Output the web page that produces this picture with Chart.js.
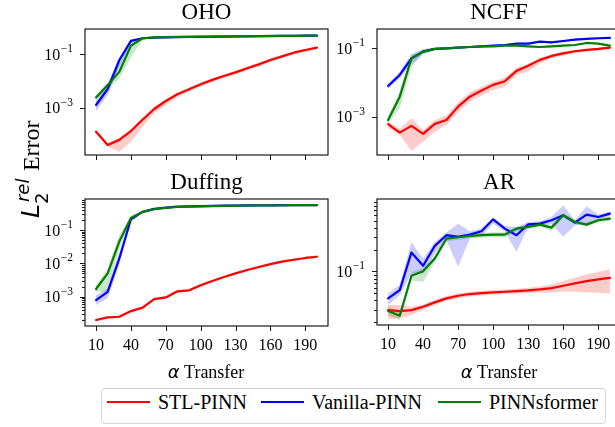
<!DOCTYPE html>
<html>
<head>
<meta charset="utf-8">
<script src="https://cdn.jsdelivr.net/npm/chart.js@4.4.0/dist/chart.umd.min.js"></script>
<style>
  html, body { margin: 0; padding: 0; width: 615px; height: 427px; overflow: hidden; background: #fff; }
  canvas { position: absolute; }
  .lbl { position: absolute; font-family: "Liberation Serif", serif; white-space: nowrap; color: #000; }
  .mi { font-family: "DejaVu Sans", sans-serif; font-style: italic; }
  .ss { display: inline-block; position: relative; width: 27px; height: 1px; }
  .ss .sp { position: absolute; left: 2px; bottom: 7px; font-size: 18px; line-height: 18px; }
  .ss .sb { position: absolute; left: 0px; top: -5px; font-size: 18px; line-height: 18px; font-style: normal; }
  .legline { position: absolute; width: 43px; height: 2px; }
</style>
</head>
<body>
<canvas id="c_oho"></canvas>
<canvas id="c_ncff"></canvas>
<canvas id="c_duff"></canvas>
<canvas id="c_ar"></canvas>

<div class="lbl" id="ylab" style="font-size:24px;line-height:24px;left:0;top:0;transform-origin:0 0;transform:translate(19px,218px) rotate(-90deg);">
  <span class="mi" style="font-size:25px">L</span><span class="ss"><span class="sp mi">rel</span><span class="sb mi">2</span></span> Error
</div>

<div class="lbl" style="font-size:18px;line-height:18px;left:206px;top:363px;transform:translateX(-50%);"><span class="mi">α</span> Transfer</div>
<div class="lbl" style="font-size:18px;line-height:18px;left:499px;top:363px;transform:translateX(-50%);"><span class="mi">α</span> Transfer</div>

<div style="position:absolute;left:101px;top:388px;width:503px;height:34px;border:1px solid #d4d4d4;border-radius:4px;background:#fff;"></div>
<div class="legline" style="left:107px;top:401px;background:#ff0000;"></div>
<div class="lbl" style="left:158px;top:391.5px;font-size:20px;line-height:20px;">STL-PINN</div>
<div class="legline" style="left:261px;top:401px;background:#0000ff;"></div>
<div class="lbl" style="left:312px;top:391.5px;font-size:20px;line-height:20px;">Vanilla-PINN</div>
<div class="legline" style="left:438px;top:401px;background:#008000;"></div>
<div class="lbl" style="left:489px;top:391.5px;font-size:20px;line-height:20px;">PINNsformer</div>

<script>
// ----------------------------------------------------
// data
// ----------------------------------------------------
const xVals = [10, 20, 30, 40, 50, 60, 70, 80, 90, 100, 110, 120, 130, 140, 150, 160, 170, 180, 190, 200];
const xTicks = [10, 40, 70, 100, 130, 160, 190];

// OHO
const ohoStl   = [1.26e-4, 4.0e-5, 6.2e-5, 1.33e-4, 3.5e-4, 8.9e-4, 1.78e-3, 3.2e-3, 4.9e-3, 7.5e-3, 1.1e-2, 1.54e-2, 2.1e-2, 3.0e-2, 4.2e-2, 6.1e-2, 8.4e-2, 0.115, 0.145, 0.178];
const ohoStlLo = [1.1e-4, 3.45e-5, 2.24e-5, 5.3e-5, 1.94e-4, 6.1e-4, 1.26e-3, 2.5e-3, 4.0e-3, 6.2e-3, 9.2e-3, 1.3e-2, 1.8e-2, 2.55e-2, 3.6e-2, 5.2e-2, 7.2e-2, 0.099, 0.126, 0.158];
const ohoStlHi = [1.45e-4, 4.6e-5, 7.5e-5, 1.6e-4, 4.2e-4, 1.05e-3, 2.05e-3, 3.7e-3, 5.6e-3, 8.6e-3, 1.26e-2, 1.76e-2, 2.4e-2, 3.4e-2, 4.8e-2, 6.9e-2, 9.5e-2, 0.128, 0.16, 0.195];
const ohoVan   = [1.26e-3, 5.0e-3, 6.0e-2, 0.32, 0.40, 0.42, 0.43, 0.44, 0.45, 0.45, 0.46, 0.46, 0.47, 0.47, 0.48, 0.48, 0.49, 0.49, 0.50, 0.50];
const ohoVanLo = [7.5e-4, 3.0e-3, 3.5e-2, 0.27, 0.37, 0.40, 0.41, 0.42, 0.43, 0.43, 0.44, 0.44, 0.45, 0.45, 0.46, 0.46, 0.47, 0.47, 0.48, 0.48];
const ohoVanHi = [1.9e-3, 7.5e-3, 8.0e-2, 0.36, 0.43, 0.44, 0.45, 0.46, 0.47, 0.47, 0.48, 0.48, 0.49, 0.49, 0.50, 0.50, 0.51, 0.51, 0.52, 0.52];
const ohoPf    = [2.4e-3, 7.0e-3, 2.2e-2, 0.21, 0.40, 0.43, 0.44, 0.45, 0.45, 0.46, 0.46, 0.47, 0.47, 0.48, 0.48, 0.49, 0.49, 0.49, 0.50, 0.50];
const ohoPfLo  = [2.0e-3, 5.0e-3, 1.2e-2, 0.08, 0.34, 0.41, 0.42, 0.43, 0.43, 0.44, 0.44, 0.45, 0.45, 0.46, 0.46, 0.47, 0.47, 0.47, 0.48, 0.48];
const ohoPfHi  = [2.9e-3, 9.0e-3, 4.0e-2, 0.34, 0.43, 0.45, 0.46, 0.47, 0.47, 0.48, 0.48, 0.49, 0.49, 0.50, 0.50, 0.51, 0.51, 0.51, 0.52, 0.52];

// NCFF
const ncffStl   = [6.2e-4, 3.5e-4, 5.5e-4, 3.2e-4, 6.3e-4, 8.2e-4, 2.0e-3, 3.9e-3, 5.9e-3, 8.6e-3, 1.1e-2, 2.2e-2, 3.1e-2, 4.6e-2, 6.0e-2, 7.1e-2, 8.2e-2, 9.0e-2, 9.6e-2, 0.105];
const ncffStlLo = [4.7e-4, 3.0e-4, 1.02e-4, 1.9e-4, 3.7e-4, 5.9e-4, 1.37e-3, 2.8e-3, 4.2e-3, 6.1e-3, 7.6e-3, 1.67e-2, 2.1e-2, 3.6e-2, 5.1e-2, 6.1e-2, 7.3e-2, 8.0e-2, 8.7e-2, 9.6e-2];
const ncffStlHi = [7.3e-4, 4.5e-4, 9.1e-4, 4.2e-4, 8.2e-4, 1.1e-3, 2.7e-3, 5.2e-3, 7.6e-3, 1.07e-2, 1.4e-2, 2.7e-2, 3.6e-2, 5.1e-2, 6.7e-2, 8.0e-2, 8.9e-2, 9.6e-2, 0.105, 0.114];
const ncffVan   = [8.0e-3, 1.67e-2, 5.1e-2, 8.0e-2, 9.6e-2, 0.100, 0.105, 0.109, 0.114, 0.120, 0.125, 0.137, 0.137, 0.156, 0.149, 0.163, 0.179, 0.187, 0.196, 0.200];
const ncffVanLo = [6.8e-3, 1.35e-2, 3.5e-2, 6.7e-2, 8.8e-2, 0.094, 0.099, 0.103, 0.108, 0.113, 0.118, 0.129, 0.129, 0.147, 0.140, 0.154, 0.169, 0.177, 0.185, 0.189];
const ncffVanHi = [9.5e-3, 2.1e-2, 6.7e-2, 9.6e-2, 0.104, 0.106, 0.111, 0.115, 0.120, 0.127, 0.132, 0.145, 0.145, 0.165, 0.158, 0.172, 0.189, 0.197, 0.207, 0.211];
const ncffPf    = [8.1e-4, 3.9e-3, 5.1e-2, 8.0e-2, 9.6e-2, 0.100, 0.105, 0.109, 0.114, 0.114, 0.120, 0.120, 0.114, 0.109, 0.114, 0.120, 0.125, 0.143, 0.137, 0.120];
const ncffPfLo  = [6.5e-4, 1.8e-3, 2.9e-2, 7.0e-2, 9.0e-2, 0.095, 0.100, 0.104, 0.108, 0.108, 0.114, 0.114, 0.108, 0.103, 0.108, 0.114, 0.118, 0.135, 0.129, 0.113];
const ncffPfHi  = [1.0e-3, 5.5e-3, 6.5e-2, 9.0e-2, 0.102, 0.106, 0.111, 0.115, 0.120, 0.120, 0.127, 0.127, 0.120, 0.115, 0.120, 0.127, 0.132, 0.151, 0.145, 0.127];

// Duffing
const duffStl   = [2.0e-4, 2.4e-4, 2.5e-4, 3.7e-4, 4.7e-4, 8.4e-4, 9.5e-4, 1.45e-3, 1.55e-3, 2.2e-3, 2.95e-3, 3.9e-3, 5.0e-3, 6.3e-3, 7.8e-3, 9.5e-3, 1.13e-2, 1.28e-2, 1.45e-2, 1.58e-2];
const duffStlLo = [1.8e-4, 2.2e-4, 2.3e-4, 3.4e-4, 4.3e-4, 7.7e-4, 8.7e-4, 1.33e-3, 1.42e-3, 2.0e-3, 2.7e-3, 3.6e-3, 4.6e-3, 5.8e-3, 7.2e-3, 8.7e-3, 1.04e-2, 1.18e-2, 1.33e-2, 1.45e-2];
const duffStlHi = [2.2e-4, 2.6e-4, 2.7e-4, 4.0e-4, 5.1e-4, 9.1e-4, 1.03e-3, 1.58e-3, 1.68e-3, 2.4e-3, 3.2e-3, 4.2e-3, 5.4e-3, 6.8e-3, 8.5e-3, 1.03e-2, 1.23e-2, 1.39e-2, 1.58e-2, 1.72e-2];
const duffVan   = [7.9e-4, 1.4e-3, 1.4e-2, 0.21, 0.35, 0.43, 0.47, 0.50, 0.51, 0.52, 0.53, 0.535, 0.54, 0.545, 0.55, 0.55, 0.555, 0.555, 0.56, 0.56];
const duffVanLo = [5.6e-4, 8.9e-4, 8.9e-3, 0.18, 0.33, 0.41, 0.45, 0.48, 0.49, 0.50, 0.51, 0.515, 0.52, 0.525, 0.53, 0.53, 0.535, 0.535, 0.54, 0.54];
const duffVanHi = [1.1e-3, 1.8e-3, 2.0e-2, 0.25, 0.37, 0.45, 0.49, 0.52, 0.53, 0.54, 0.55, 0.555, 0.56, 0.565, 0.57, 0.57, 0.575, 0.575, 0.58, 0.58];
const duffPf    = [1.7e-3, 5.0e-3, 4.5e-2, 0.23, 0.35, 0.42, 0.46, 0.49, 0.50, 0.51, 0.52, 0.53, 0.535, 0.54, 0.545, 0.55, 0.55, 0.555, 0.555, 0.56];
const duffPfLo  = [1.4e-3, 1.4e-3, 2.8e-2, 0.19, 0.33, 0.40, 0.44, 0.47, 0.48, 0.49, 0.50, 0.51, 0.515, 0.52, 0.525, 0.53, 0.53, 0.535, 0.535, 0.54];
const duffPfHi  = [2.2e-3, 7.0e-3, 7.0e-2, 0.27, 0.37, 0.44, 0.48, 0.51, 0.52, 0.53, 0.54, 0.55, 0.555, 0.56, 0.565, 0.57, 0.57, 0.575, 0.575, 0.58];

// AR
const arStl   = [0.0295, 0.0286, 0.0295, 0.0328, 0.0376, 0.0427, 0.0464, 0.049, 0.0505, 0.0516, 0.0527, 0.0538, 0.055, 0.0567, 0.0591, 0.0637, 0.0686, 0.0738, 0.0777, 0.0819];
const arStlLo = [0.0222, 0.0227, 0.0252, 0.0295, 0.0346, 0.0396, 0.0427, 0.0455, 0.0469, 0.0479, 0.049, 0.0494, 0.0505, 0.0516, 0.0516, 0.0527, 0.0527, 0.0516, 0.051, 0.05];
const arStlHi = [0.0346, 0.0346, 0.0328, 0.0353, 0.0405, 0.0459, 0.05, 0.0527, 0.0543, 0.0555, 0.0567, 0.0579, 0.0597, 0.0623, 0.0664, 0.0738, 0.0819, 0.091, 0.099, 0.1076];
const arVan   = [0.0427, 0.0555, 0.182, 0.12, 0.225, 0.315, 0.299, 0.321, 0.357, 0.521, 0.388, 0.315, 0.445, 0.455, 0.505, 0.591, 0.469, 0.604, 0.561, 0.624];
const arVanLo = [0.0345, 0.0474, 0.094, 0.094, 0.176, 0.269, 0.116, 0.283, 0.308, 0.454, 0.35, 0.186, 0.408, 0.422, 0.454, 0.30, 0.432, 0.454, 0.521, 0.58];
const arVanHi = [0.05, 0.065, 0.255, 0.15, 0.255, 0.342, 0.454, 0.357, 0.388, 0.543, 0.422, 0.408, 0.478, 0.488, 0.561, 0.81, 0.505, 0.79, 0.604, 0.67];
const arPf    = [0.0286, 0.0247, 0.0873, 0.101, 0.151, 0.283, 0.295, 0.308, 0.315, 0.321, 0.321, 0.388, 0.409, 0.44, 0.401, 0.591, 0.479, 0.44, 0.505, 0.532];
const arPfLo  = [0.025, 0.0215, 0.075, 0.072, 0.135, 0.26, 0.27, 0.285, 0.29, 0.295, 0.295, 0.36, 0.38, 0.41, 0.36, 0.55, 0.445, 0.41, 0.47, 0.495];
const arPfHi  = [0.033, 0.028, 0.097, 0.112, 0.166, 0.305, 0.318, 0.33, 0.338, 0.345, 0.345, 0.415, 0.44, 0.47, 0.44, 0.635, 0.515, 0.47, 0.54, 0.57];

// ----------------------------------------------------
// panel layout
// ----------------------------------------------------
const PAD = { left: 75, top: 34, right: 8, bottom: 30 };
const COLORS = {
  stl: ["#ff0000", "rgba(255,0,0,0.2)"],
  van: ["#0000ff", "rgba(0,0,255,0.2)"],
  pf:  ["#008000", "rgba(0,128,0,0.2)"]
};

function minorsFor(lo, hi) {
  const out = [];
  for (let e = Math.floor(Math.log10(lo)); e <= Math.ceil(Math.log10(hi)); e++) {
    for (let m = 2; m <= 9; m++) {
      const v = m * Math.pow(10, e);
      if (v >= lo && v <= hi) out.push(v);
    }
  }
  return out;
}

const panels = [
  { key: "oho", title: "OHO", box: [85, 29, 328, 155], yMin: 1.68e-5, yMax: 0.889, majors: [1e-1, 1e-3], minor: false, showX: false,
    series: { stl: [ohoStl, ohoStlLo, ohoStlHi], van: [ohoVan, ohoVanLo, ohoVanHi], pf: [ohoPf, ohoPfLo, ohoPfHi] } },
  { key: "ncff", title: "NCFF", box: [377, 29, 621, 155], yMin: 7.8e-5, yMax: 0.365, majors: [1e-1, 1e-3], minor: false, showX: false,
    series: { stl: [ncffStl, ncffStlLo, ncffStlHi], van: [ncffVan, ncffVanLo, ncffVanHi], pf: [ncffPf, ncffPfLo, ncffPfHi] } },
  { key: "duff", title: "Duffing", box: [85, 199, 328, 326], yMin: 1.32e-4, yMax: 0.851, majors: [1e-1, 1e-2, 1e-3], minor: true, showX: true,
    series: { stl: [duffStl, duffStlLo, duffStlHi], van: [duffVan, duffVanLo, duffVanHi], pf: [duffPf, duffPfLo, duffPfHi] } },
  { key: "ar", title: "AR", box: [377, 199, 621, 325], yMin: 0.0184, yMax: 0.99, majors: [1e-1], minor: true, showX: true,
    series: { stl: [arStl, arStlLo, arStlHi], van: [arVan, arVanLo, arVanHi], pf: [arPf, arPfLo, arPfHi] } }
];

const pts = arr => xVals.map((x, i) => ({ x: x, y: arr[i] }));

// frame, ticks, tick labels and title
function decoPlugin(p) {
  return {
    id: "deco_" + p.key,
    afterDraw(chart) {
      const ctx = chart.ctx, a = chart.chartArea, xs = chart.scales.x, ys = chart.scales.y;
      ctx.save();
      ctx.strokeStyle = "#1a1a1a";
      ctx.fillStyle = "#000";

      // x ticks
      ctx.lineWidth = 1;
      ctx.beginPath();
      xTicks.forEach(v => {
        const px = Math.round(xs.getPixelForValue(v)) + 0.5;
        ctx.moveTo(px, a.bottom);
        ctx.lineTo(px, a.bottom + 5);
      });
      ctx.stroke();
      if (p.showX) {
        ctx.font = '16px "Liberation Serif"';
        ctx.textAlign = "center";
        ctx.textBaseline = "alphabetic";
        xTicks.forEach(v => ctx.fillText(String(v), xs.getPixelForValue(v), a.bottom + 24));
      }

      // y ticks
      ctx.beginPath();
      p.majors.forEach(v => {
        const py = Math.round(ys.getPixelForValue(v)) + 0.5;
        ctx.moveTo(a.left - 5, py);
        ctx.lineTo(a.left, py);
      });
      if (p.minor) {
        minorsFor(p.yMin, p.yMax).forEach(v => {
          const py = Math.round(ys.getPixelForValue(v)) + 0.5;
          ctx.moveTo(a.left - 3, py);
          ctx.lineTo(a.left, py);
        });
      }
      ctx.stroke();

      ctx.textAlign = "right";
      ctx.textBaseline = "alphabetic";
      p.majors.forEach(v => {
        const py = ys.getPixelForValue(v);
        const exp = "\u2212" + Math.round(-Math.log10(v));
        const rx = a.left - 12;
        ctx.font = '11.5px "Liberation Serif"';
        const w = ctx.measureText(exp).width;
        ctx.fillText(exp, rx, py - 2);
        ctx.font = '16px "Liberation Serif"';
        ctx.fillText("10", rx - w - 0.5, py + 5.5);
      });

      // frame
      ctx.lineWidth = 1.2;
      ctx.strokeRect(a.left, a.top, a.right - a.left, a.bottom - a.top);

      // title
      ctx.font = '23px "Liberation Serif"';
      ctx.textAlign = "center";
      ctx.fillText(p.title, (a.left + a.right) / 2, a.top - 10.5);
      ctx.restore();
    }
  };
}

panels.forEach(p => {
  const [l, t, r, b] = p.box;
  const cv = document.getElementById("c_" + p.key);
  cv.width = (r - l) + PAD.left + PAD.right;
  cv.height = (b - t) + PAD.top + PAD.bottom;
  cv.style.left = (l - PAD.left) + "px";
  cv.style.top = (t - PAD.top) + "px";

  const datasets = [];
  const lineOrder = { stl: 3, van: 2, pf: 1 };
  ["stl", "van", "pf"].forEach(k => {
    const [mean, lo, hi] = p.series[k];
    const [col, band] = COLORS[k];
    datasets.push({ data: pts(lo), borderWidth: 0, pointRadius: 0, fill: false, order: 5 });
    datasets.push({ data: pts(hi), borderWidth: 0, pointRadius: 0, fill: "-1", backgroundColor: band, order: 5 });
    datasets.push({ data: pts(mean), borderColor: col, borderWidth: 2.2, pointRadius: 0, fill: false,
                    borderJoinStyle: "round", borderCapStyle: "round", order: lineOrder[k] });
  });

  new Chart(cv.getContext("2d"), {
    type: "line",
    data: { datasets },
    options: {
      responsive: false,
      animation: false,
      events: [],
      layout: { padding: PAD },
      elements: { line: { tension: 0 } },
      plugins: { legend: { display: false }, tooltip: { enabled: false }, title: { display: false } },
      scales: {
        x: { type: "linear", min: 0.5, max: 209.5, display: false },
        y: { type: "logarithmic", min: p.yMin, max: p.yMax, display: false }
      }
    },
    plugins: [decoPlugin(p)]
  });
});
</script>
</body>
</html>
